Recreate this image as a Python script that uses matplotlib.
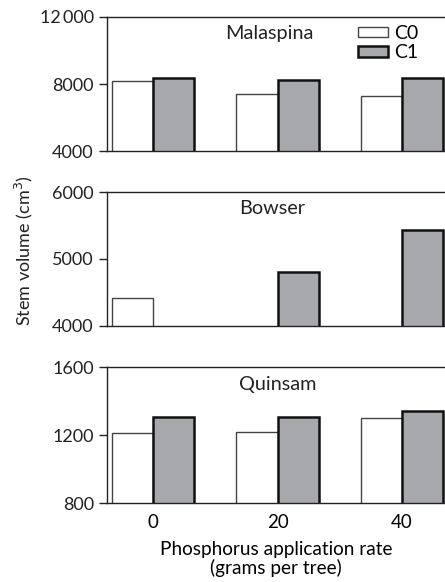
import matplotlib.pyplot as plt
import numpy as np

plt.rcParams['font.family'] = ['Lato', 'DejaVu Sans']

rates = ["0", "20", "40"]
sites = ["Malaspina", "Bowser", "Quinsam"]

# stem volume (cm3), C0 and C1, per phosphorus rate
malaspina_c0 = [8200, 7390, 7270]
malaspina_c1 = [8360, 8260, 8360]
bowser_c0 = [4413, np.nan, np.nan]
bowser_c1 = [np.nan, 4812, 5433]
quinsam_c0 = [1212, 1216, 1300]
quinsam_c1 = [1305, 1305, 1343]

c0_vals = [malaspina_c0, bowser_c0, quinsam_c0]
c1_vals = [malaspina_c1, bowser_c1, quinsam_c1]

yticks = [[4000, 8000, 12000], [4000, 5000, 6000], [800, 1200, 1600]]
yticklabels = [["4000", "8000", "12\u2009000"], ["4000", "5000", "6000"],
               ["800", "1200", "1600"]]

fig = plt.figure(figsize=(4.45, 5.82), dpi=100)
# [left, bottom, width, height]
boxes = [[0.2404, 0.7405, 0.7596, 0.2303],
         [0.2404, 0.4399, 0.7596, 0.2302],
         [0.2404, 0.1357, 0.7596, 0.2337]]
name_x = [0.48, 0.49, 0.505]

x = np.arange(len(rates))
w = 0.33
grey = "#a7a8ab"

for i in range(3):
    ax = fig.add_axes(boxes[i])
    ax.bar(x - w/2, c0_vals[i], w, color="white",
           edgecolor="#444444", linewidth=1.0, label="C0")
    ax.bar(x + w/2, c1_vals[i], w, color=grey,
           edgecolor="#111111", linewidth=1.8, label="C1")
    ax.set_xlim(-0.37, 2.345)
    ax.set_ylim(yticks[i][0], yticks[i][-1])
    ax.set_yticks(yticks[i])
    ax.set_yticklabels(yticklabels[i], fontsize=13)
    ax.spines["right"].set_visible(False)
    for s in ["left", "top", "bottom"]:
        ax.spines[s].set_linewidth(1.0)
        ax.spines[s].set_color("#222222")
    ax.tick_params(axis="y", direction="out", length=6, width=1.0, colors="#222222")
    ax.tick_params(axis="x", length=0)
    ax.text(name_x[i], 0.875, sites[i], transform=ax.transAxes, ha="center",
            va="center", fontsize=14.3, color="#222222")
    if i < 2:
        ax.set_xticks([])
    else:
        ax.set_xticks(x)
        ax.set_xticklabels(rates, fontsize=13.5)
        ax.tick_params(axis="x", pad=8)
        ax.set_xlabel("Phosphorus application rate\n(grams per tree)",
                      fontsize=13.7, linespacing=1.05, labelpad=7)
    if i == 0:
        ax.legend(loc="upper left", bbox_to_anchor=(0.743, 0.94), frameon=False,
                  fontsize=14, handlelength=1.55, handleheight=0.47,
                  labelspacing=0.12, handletextpad=0.3, borderaxespad=0.0,
                  borderpad=0.0)

fig.text(0.054, 0.569, "Stem volume (cm$^3$)", rotation=90, ha="center",
         va="center", fontsize=13, color="#222222")

fig.savefig("out.png", dpi=100)
